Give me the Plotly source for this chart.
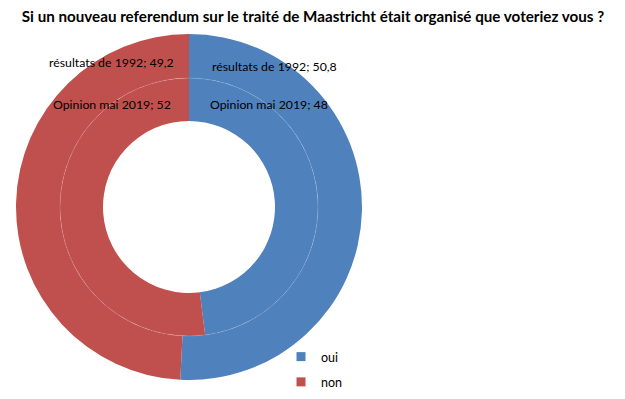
import plotly.graph_objects as go

# ---- data ----
categories = ["oui", "non"]
series_names = ["résultats de 1992", "Opinion mai 2019"]
values_1992 = [50.8, 49.2]
values_2019 = [48, 52]
colors = ["#4F81BD", "#C0504D"]
title_text = "Si un nouveau referendum sur le traité de Maastricht était organisé que voteriez vous ?"

W, H = 625, 399
FONT = "Lato"
OFF = 8  # default page body margin in the browser

def px_x(x):
    return (x - OFF) / W

def px_y(y):
    return 1 - (y - OFF) / H

def fmt(v):
    return ("%g" % v).replace(".", ",")

cx, cy = 189, 207
r_out, r_mid, r_in = 173, 129, 86

fig = go.Figure()

# outer ring: 1992 results
fig.add_trace(go.Pie(
    labels=categories, values=values_1992, name=series_names[0],
    hole=r_mid / r_out, sort=False, direction="clockwise", rotation=0,
    marker=dict(colors=colors, line=dict(width=0)),
    textinfo="none", hoverinfo="label+value+name", showlegend=False,
    domain=dict(x=[px_x(cx - r_out), px_x(cx + r_out)],
                y=[px_y(cy + r_out), px_y(cy - r_out)]),
))

# inner ring: 2019 opinion
fig.add_trace(go.Pie(
    labels=categories, values=values_2019, name=series_names[1],
    hole=r_in / r_mid, sort=False, direction="clockwise", rotation=0,
    marker=dict(colors=colors, line=dict(width=0)),
    textinfo="none", hoverinfo="label+value+name", showlegend=False,
    domain=dict(x=[px_x(cx - r_mid), px_x(cx + r_mid)],
                y=[px_y(cy + r_mid), px_y(cy - r_mid)]),
))

# legend entries
for cat, col in zip(categories, colors):
    fig.add_trace(go.Scatter(
        x=[None], y=[None], mode="markers", name=cat, legendgroup=cat,
        marker=dict(symbol="square", size=9, color=col),
        showlegend=True,
    ))

# thin divider between the rings
fig.add_shape(type="circle", xref="paper", yref="paper",
              x0=px_x(cx - r_mid), x1=px_x(cx + r_mid),
              y0=px_y(cy + r_mid), y1=px_y(cy - r_mid),
              line=dict(color="rgba(255,255,255,0.2)", width=0.7),
              fillcolor="rgba(0,0,0,0)")

# data labels
label_pos = {
    (0, 1): (111, 62),
    (0, 0): (274, 66),
    (1, 1): (112, 105),
    (1, 0): (269, 105),
}
all_vals = [values_1992, values_2019]
for si, vals in enumerate(all_vals):
    for ci, v in enumerate(vals):
        x, y = label_pos[(si, ci)]
        fig.add_annotation(
            x=px_x(x), y=px_y(y), xref="paper", yref="paper",
            text=f"{series_names[si]}; {fmt(v)}", showarrow=False,
            xanchor="center", yanchor="middle",
            font=dict(family=FONT, size=12.3, color="#000000"),
        )

fig.update_layout(
    width=W, height=H,
    margin=dict(l=0, r=0, t=0, b=0),
    paper_bgcolor="white", plot_bgcolor="white",
    title=dict(text=f"<b>{title_text}</b>", x=px_x(313), xanchor="center",
               y=px_y(17), yanchor="middle",
               font=dict(family=FONT, size=15.2, color="#000000")),
    xaxis=dict(visible=False), yaxis=dict(visible=False),
    legend=dict(x=px_x(281), y=px_y(342), xanchor="left", yanchor="top",
                font=dict(family=FONT, size=12.5, color="#000000"),
                tracegroupgap=6, itemwidth=30, bgcolor="rgba(0,0,0,0)"),
    showlegend=True,
)

fig.write_html("out.html")
